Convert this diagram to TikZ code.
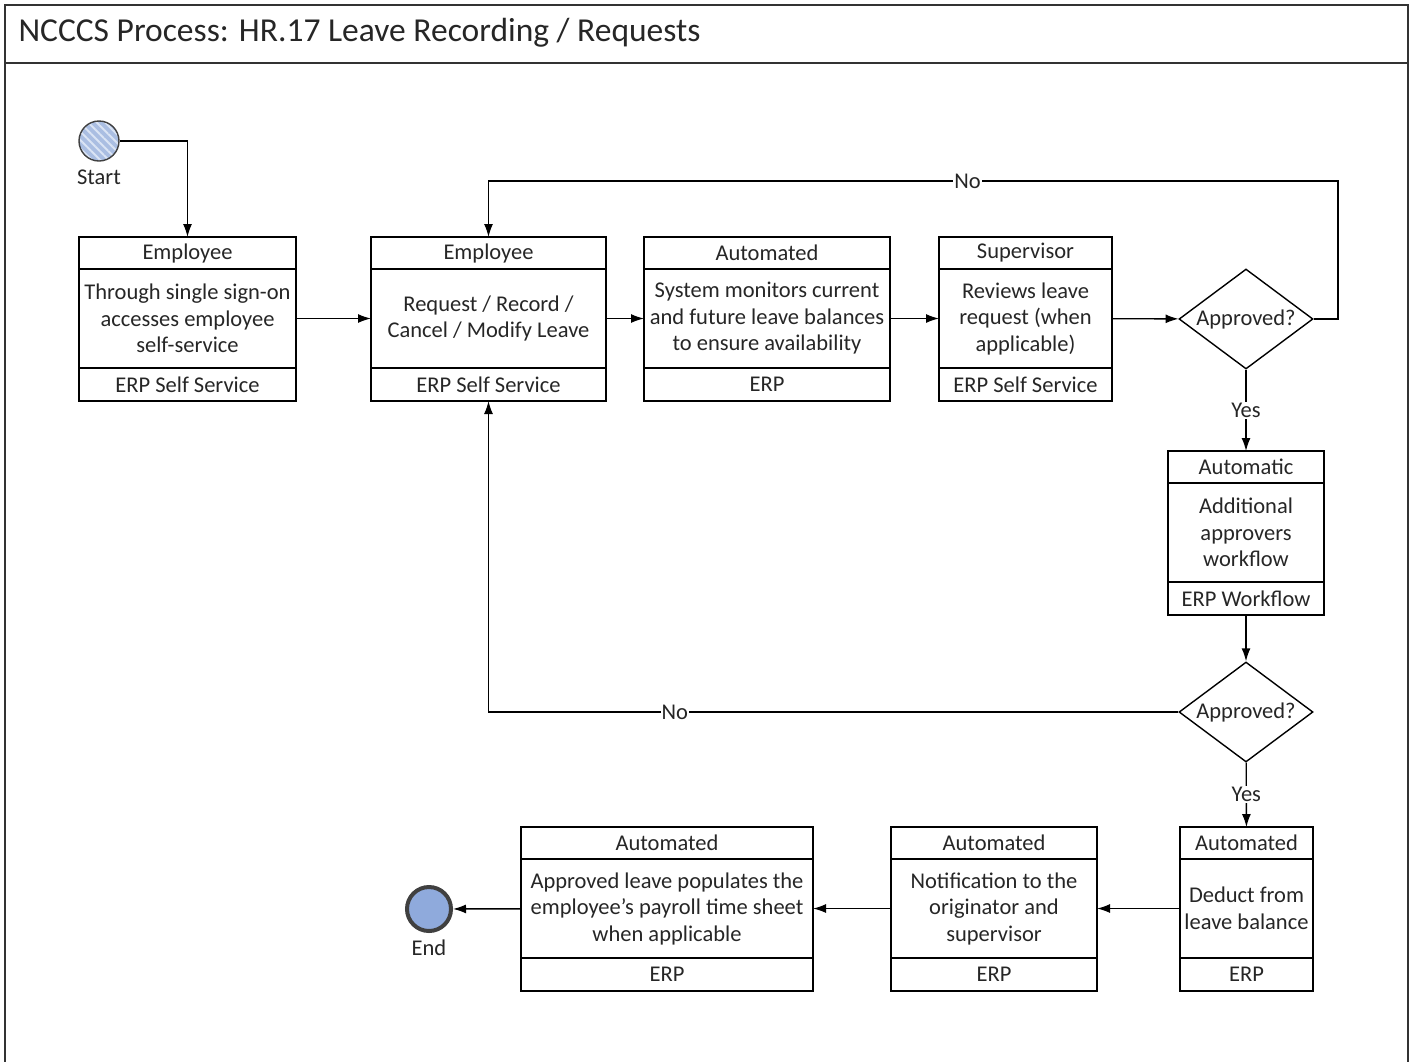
\documentclass[tikz,border=0pt]{standalone}
\usepackage{fontspec}
\setmainfont{Carlito}
\usetikzlibrary{positioning,shapes.geometric,arrows.meta,patterns.meta}

\definecolor{eventblue}{RGB}{170,190,226}
\definecolor{stripeblue}{RGB}{218,228,244}
\definecolor{endblue}{RGB}{143,170,220}

% one process step: role on top, action in the middle, system at the bottom
\newcommand{\task}[7]{%
  \node[role, minimum width=#4pt] (#1-h) at (#2,#3) {#5};
  \node[action, minimum width=#4pt, below=0pt of #1-h] (#1) {#6};
  \node[system, minimum width=#4pt, below=0pt of #1] (#1-f) {#7};
}

\begin{document}
\begin{tikzpicture}[x=1pt, y=-1pt,
    txt/.style={font=\fontsize{22.5}{26.5}\selectfont, text=black!85},
    box/.style={draw, line width=1.4pt, inner sep=0pt, outer sep=0pt, txt},
    role/.style={box, minimum height=32pt, anchor=north},
    action/.style={box, minimum height=99pt, align=center},
    system/.style={box, minimum height=33pt},
    decision/.style={diamond, draw, line width=1.4pt, aspect=1.34,
        minimum width=134pt, minimum height=100pt, inner sep=0pt, txt},
    flow/.style={line width=1.4pt, -{Latex[length=13pt,width=9pt]}},
    tag/.style={fill=white, inner sep=1pt, txt}]
    \useasboundingbox (0,0) rectangle (1410,1061);

    % frame and title
    \draw[line width=1.4pt, black!80] (5,5) rectangle (1408,1080);
    \draw[line width=1.4pt, black!80] (5,63) -- (1408,63);
    \node[anchor=west, font=\fontsize{33.5}{38}\selectfont, text=black!85] (title) at (15,33)
        {NCCCS Process: HR.17 Leave Recording / Requests};

    % start and end events
    \node[circle, draw=black!75, line width=1.4pt, minimum size=40pt, inner sep=0pt,
        preaction={fill=eventblue},
        pattern={Lines[angle=-45, distance=6pt, line width=2pt]}, pattern color=stripeblue,
        label={[txt, label distance=4pt]below:Start}] (start) at (99,141) {};
    \node[circle, draw=black!75, line width=4pt, minimum size=44pt, inner sep=0pt,
        fill=endblue,
        label={[txt, label distance=3pt]below:End}] (finish) at (429,909) {};

    % process steps
    \task{signon}{187.5}{237}{217}{Employee}
        {Through single sign-on\\accesses employee\\self-service}{ERP Self Service}
    \task{request}{488.5}{237}{235}{Employee}
        {Request / Record /\\Cancel / Modify Leave}{ERP Self Service}
    \task{monitor}{767}{237}{246}{Automated}
        {System monitors current\\and future leave balances\\to ensure availability}{ERP}
    \task{review}{1025.5}{237}{173}{Supervisor}
        {Reviews leave\\request (when\\applicable)}{ERP Self Service}
    \task{workflow}{1246}{451}{156}{Automatic}
        {Additional\\approvers\\workflow}{ERP Workflow}
    \task{deduct}{1246.5}{827}{133}{Automated}
        {Deduct from\\leave balance}{ERP}
    \task{notify}{994}{827}{206}{Automated}
        {Notification to the\\originator and\\supervisor}{ERP}
    \task{populate}{667}{827}{292}{Automated}
        {Approved leave populates the\\employee’s payroll time sheet\\when applicable}{ERP}

    % decisions
    \node[decision] (check1) at (1246,319) {Approved?};
    \node[decision] (check2) at (1246,712) {Approved?};
    \coordinate (loopup) at (1338,181);

    % connectors
    \draw[flow] (start) -| (signon-h);
    \draw[flow] (signon) -- (request);
    \draw[flow] (request) -- (monitor);
    \draw[flow] (monitor) -- (review);
    \draw[flow] (review) -- (check1);
    \draw[flow] (check1.east) -| (loopup) -| node[pos=0.218, tag] {No} (request-h.north);
    \draw[flow] (check1) -- node[tag] {Yes} (workflow-h);
    \draw[flow] (workflow-f) -- (check2);
    \draw[flow] (check2) -| node[pos=0.365, tag] {No} (request-f);
    \draw[flow] (check2) -- node[tag] {Yes} (deduct-h);
    \draw[flow] (deduct) -- (notify);
    \draw[flow] (notify) -- (populate);
    \draw[flow] (populate) -- (finish);
\end{tikzpicture}
\end{document}
